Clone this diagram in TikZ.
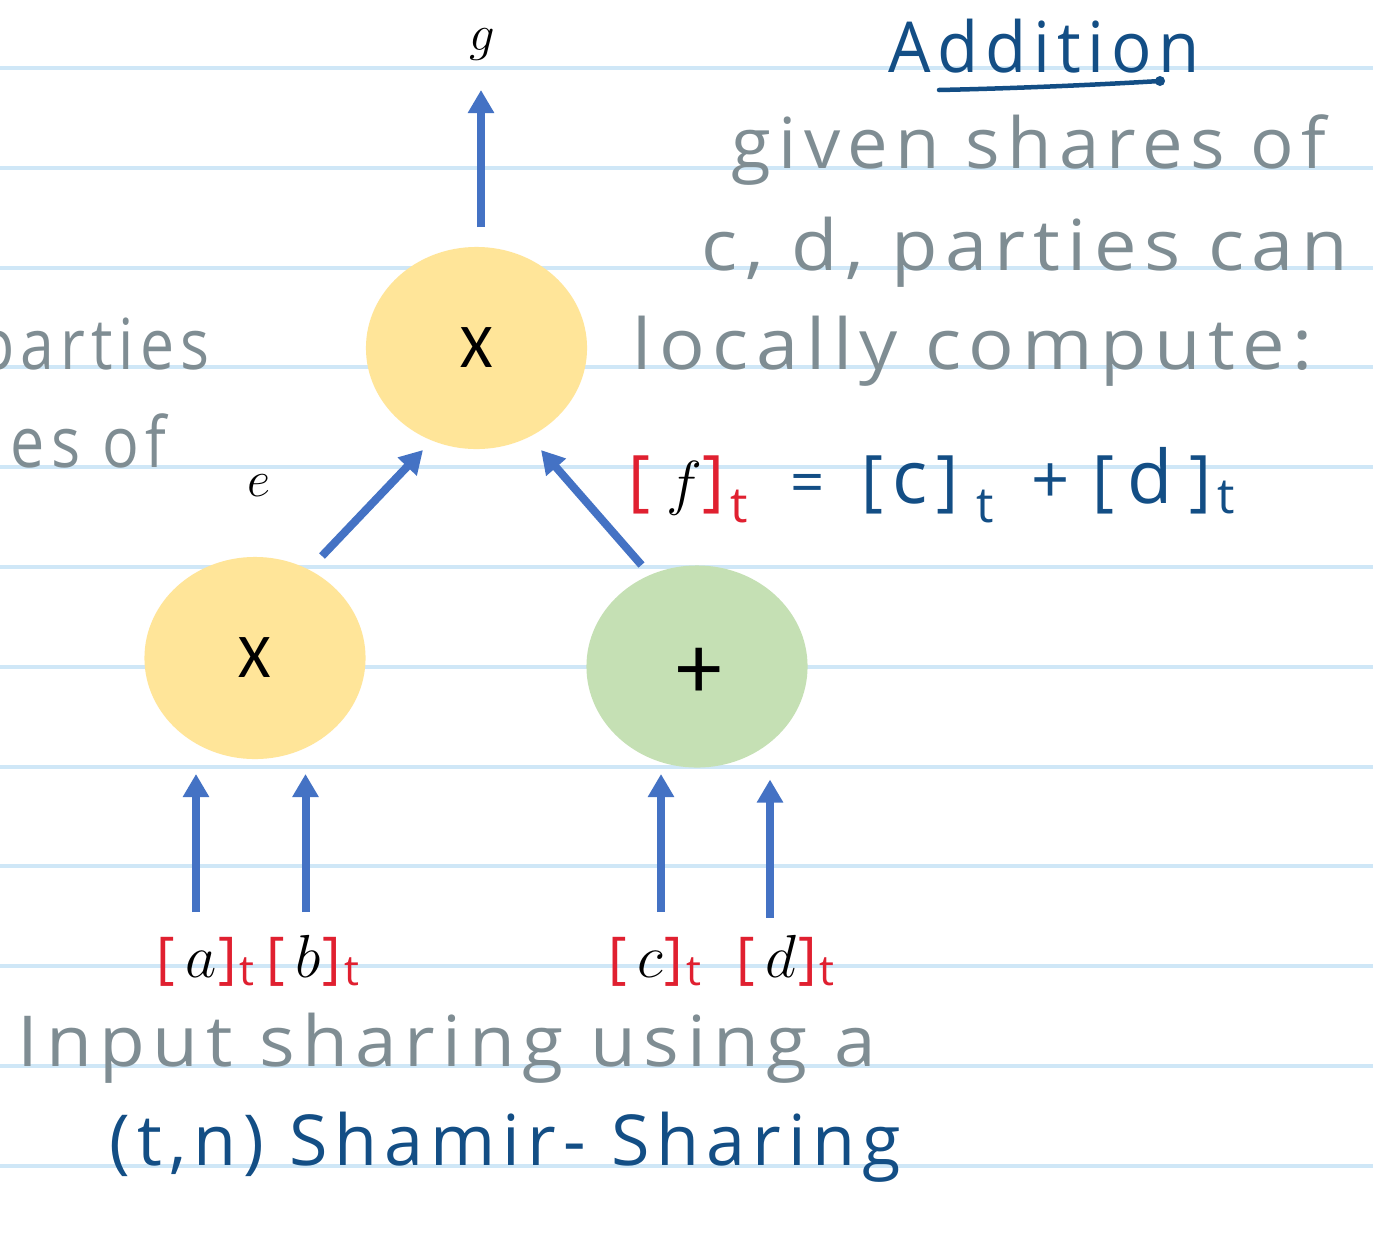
\documentclass[tikz,border=0pt]{standalone}
\usepackage{fontspec}
\usetikzlibrary{arrows.meta,shapes.geometric,calc}
\newfontfamily\handfont[LetterSpace=10]{Open Sans}
\newfontfamily\calfont{Carlito}
\definecolor{rulec}{HTML}{CFE7F7}
\definecolor{arrowc}{HTML}{4472C4}
\definecolor{yel}{HTML}{FFE599}
\definecolor{grn}{HTML}{C5E0B4}
\definecolor{hgray}{HTML}{7F8D93}
\definecolor{hblue}{HTML}{134E85}
\definecolor{hred}{HTML}{E02030}
\newcommand\fitw[2]{\resizebox{#1}{\height}{#2}}
\newcommand\hbr[1]{{\handfont\fontsize{16}{18}\selectfont\color{hred}#1}}
\newcommand\hsub{{\handfont\color{hred}\raisebox{-0.08cm}{\fontsize{12}{14}\selectfont t}}}
\newcommand\shr[1]{\hbr{[}\hspace{0.1cm}{\fontsize{16}{18}\selectfont$#1$}\hspace{0.02cm}\hbr{]}\hspace{0.03cm}\hsub}
\newcommand\pc[2]{\rlap{\hspace*{#1}#2}}
\newcommand\et[1]{\raisebox{#1}{\fontsize{14}{16}\selectfont t}}
\tikzset{
  rule/.style={draw=rulec, line width=0.04cm},
  ell/.style={ellipse, minimum width=2.21cm, minimum height=2.02cm, inner sep=0pt, draw=none, font=\calfont\fontsize{17.7}{20}\selectfont},
  arr/.style={draw=arrowc, line width=0.08cm, -{Triangle[width=0.25cm,length=0.23cm]}},
  hand/.style={inner sep=0pt, font=\handfont\fontsize{20}{24}\selectfont},
  grayhand/.style={hand, text=hgray},
  bluehand/.style={hand, text=hblue},
  mathlbl/.style={inner sep=0pt, anchor=base, font=\fontsize{14}{16}\selectfont},
  share/.style={inner sep=0pt, anchor=base west},
}
\begin{document}
\begin{tikzpicture}[x=0.01cm, y=-0.01cm]
\useasboundingbox (0,0) rectangle (1373,1236);
\clip (0,0) rectangle (1373,1236);
\fill[white] (0,0) rectangle (1373,1236);
% ruled lines
\foreach \ly in {68,168,268,367,467,567,667,767,866,966,1066,1166}
  \draw[rule] (0,\ly) -- (1373,\ly);
% ellipses
\node[ell, fill=yel] (top) at (476.5,348) {X};
\node[ell, fill=yel] (bl) at (255,658) {X};
\node[ell, fill=grn] (br) at (697,666.5) {};
\node[inner sep=0pt, font=\calfont\fontsize{26}{28}\selectfont] (brtxt) at (699,673) {+};
% labels
\node[mathlbl] (g) at (482,50) {$g$};
\node[mathlbl] (e) at (259,496) {$e$};
\node[share] (la) at (156,977) {\shr{a}};
\node[share] (lb) at (266,977) {\shr{b}};
\node[share] (lc) at (608,977) {\shr{c}};
\node[share] (ld) at (736,977) {\shr{d}};
\coordinate (ta) at (196,912);
\coordinate (tb) at (305.5,912);
\coordinate (tc) at (661,912);
\coordinate (td) at (770,917.5);
% arrows
\draw[arr] ($(top.north)+(4.5,-19)$) -- ($(g.base)+(-1,40)$);
\draw[arr] ($(bl.center)+(67,-102)$) -- ($(top.center)+(-53.5,102)$);
\draw[arr] ($(br.center)+(-55.5,-101.5)$) -- ($(top.center)+(64.5,102)$);
\draw[arr] (ta) -- ($(bl.center)+(-59,116)$);
\draw[arr] (tb) -- ($(bl.center)+(50.5,116)$);
\draw[arr] (tc) -- ($(br.center)+(-36,107.5)$);
\draw[arr] (td) -- ($(br.center)+(73,113)$);
% handwritten texts
\node[bluehand, anchor=base west] (title) at (888,72) {\fitw{3.11cm}{Addition}};
\draw[hblue, line width=0.045cm, line cap=round] (939,90) .. controls (1030,88) and (1110,84) .. (1160,81);
\fill[hblue] (1160,81) circle[radius=0.05cm];
\node[grayhand, anchor=base west] (t1) at (731,168) {\fitw{5.94cm}{given shares of}};
\node[grayhand, anchor=base west] (t2) at (701,270) {\fitw{6.46cm}{c, d, parties can}};
\node[grayhand, anchor=base west] (t3) at (632,369) {\fitw{6.80cm}{locally compute:}};
\node[grayhand, anchor=base east] (l1) at (210,369) {\fitw{2.32cm}{parties}};
\node[grayhand, anchor=base west] (l2) at (10,467) {\fitw{1.55cm}{es of}};
\node[hand, anchor=base west, font=\handfont\fontsize{19}{21}\selectfont] (eq) at (628,503) {%
  \pc{0cm}{\color{hred}[}%
  \pc{0.38cm}{\fontsize{18}{20}\selectfont$f$}%
  \pc{0.74cm}{\color{hred}]}%
  \pc{1.02cm}{\color{hred}\et{-0.19cm}}%
  \pc{1.62cm}{\color{hblue}\fontsize{17}{18}\selectfont =}%
  \pc{2.33cm}{\color{hblue}[}%
  \pc{2.64cm}{\color{hblue}\fontsize{21}{22}\selectfont c}%
  \pc{3.08cm}{\color{hblue}]}%
  \pc{3.48cm}{\color{hblue}\et{-0.19cm}}%
  \pc{4.03cm}{\color{hblue}+}%
  \pc{4.64cm}{\color{hblue}[}%
  \pc{4.98cm}{\color{hblue}\fontsize{21}{22}\selectfont d}%
  \pc{5.60cm}{\color{hblue}]}%
  \pc{5.88cm}{\color{hblue}\et{-0.1cm}}%
  \hspace*{6.18cm}};
\node[grayhand, anchor=base west] (b1) at (17,1066) {\fitw{8.58cm}{Input sharing using a}};
\node[bluehand, anchor=base west] (b2) at (109,1165) {\fitw{7.91cm}{(t,n) Shamir- Sharing}};
\end{tikzpicture}
\end{document}
